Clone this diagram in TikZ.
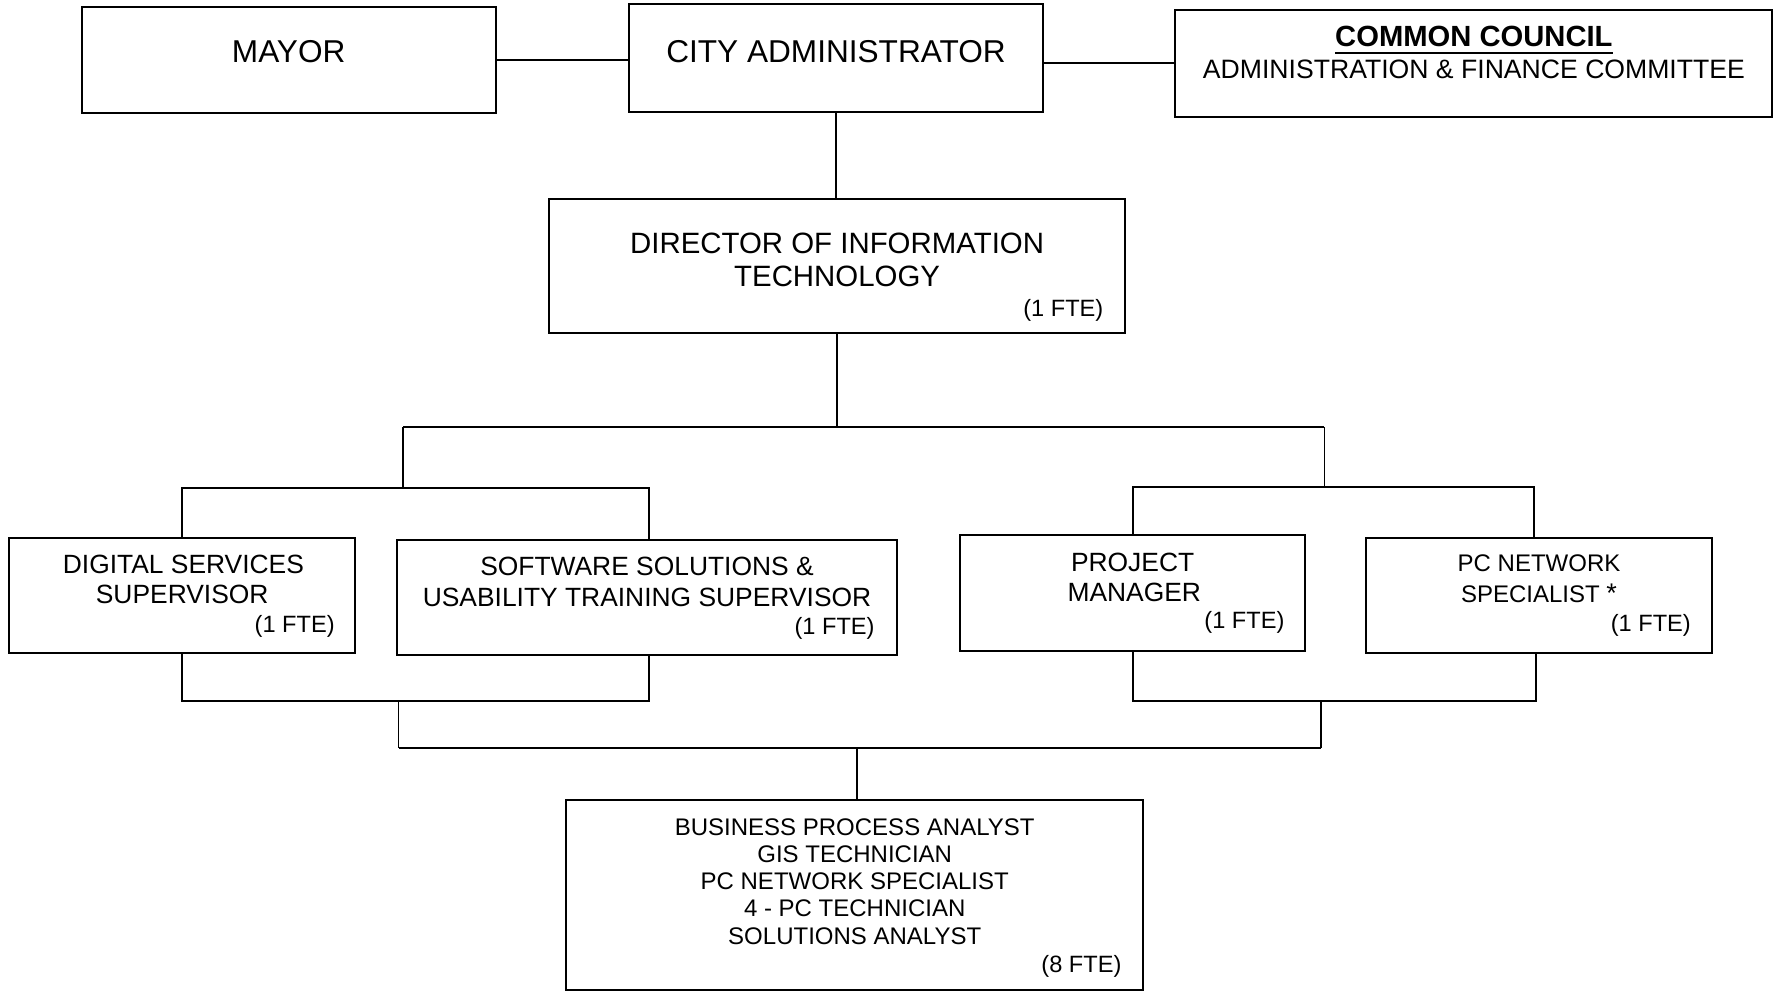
\documentclass[tikz,border=0pt]{standalone}
\usepackage{fontspec}
\setmainfont{Liberation Sans}
\usetikzlibrary{fit}
\newcommand\ulcc[1]{\setbox0\hbox{#1}\rlap{\raisebox{-3.9pt}{\rule{\wd0}{1.3pt}}}\box0}
\begin{document}
\begin{tikzpicture}[x=0.5pt,y=-0.5pt,
  box/.style={draw, line width=1pt, inner sep=0pt, outer sep=0pt},
  conn/.style={line width=0.9pt},
  tl/.style={inner sep=0pt, anchor=base},
  big/.style={tl, font=\fontsize{15.8}{18}\selectfont},
  mid/.style={tl, font=\fontsize{13.2}{15}\selectfont},
  sml/.style={tl, font=\fontsize{12}{14}\selectfont},
  fte/.style={inner sep=0pt, anchor=base east, font=\fontsize{11.8}{14}\selectfont}]
\useasboundingbox (0,0) rectangle (1775,990);

% boxes
\node[box, fit={(81.5,6.8) (495.8,113.2)}] (mayor) {};
\node[box, fit={(629.4,4.5) (1042.6,112)}] (city) {};
\node[box, fit={(1175,10.2) (1771.5,116.6)}] (council) {};
\node[box, fit={(549,199.2) (1125.2,332.8)}] (dir) {};
\node[box, fit={(9,537.7) (355.4,653.2)}] (ds) {};
\node[box, fit={(397.3,540) (896.5,655.4)}] (ss) {};
\node[box, fit={(960,535.4) (1305.2,650.9)}] (pm) {};
\node[box, fit={(1366.3,537.7) (1711.6,653.2)}] (pc) {};
\node[box, fit={(566,800.3) (1143.3,989.5)}] (bot) {};

% texts
\node[big] (tmayor) at (288.7,62.2) {MAYOR};
\node[big] (tcity) at (836,62.2) {CITY ADMINISTRATOR};
\node[tl, font=\bfseries\fontsize{14.6}{17}\selectfont] (tcc1) at (1473.9,46.7) {\ulcc{COMMON COUNCIL}};
\node[tl, font=\fontsize{13.3}{16}\selectfont] (tcc2) at (1473.9,78.6) {ADMINISTRATION \& FINANCE COMMITTEE};

\node[tl, font=\fontsize{14.7}{17}\selectfont] (tdir1) at (837.1,253.9) {DIRECTOR OF INFORMATION};
\node[tl, font=\fontsize{14.7}{17}\selectfont] (tdir2) at (837.1,286.7) {TECHNOLOGY};
\node[fte] (tdir3) at (1103.7,316.3) {(1 FTE)};

\node[mid] (tds1) at (183.4,573.2) {DIGITAL SERVICES};
\node[mid] (tds2) at (182.2,603.8) {SUPERVISOR};
\node[fte] (tds3) at (335.1,632.1) {(1 FTE)};

\node[mid] (tss1) at (647,575.5) {SOFTWARE SOLUTIONS \&};
\node[mid] (tss2) at (647,606.1) {USABILITY TRAINING SUPERVISOR};
\node[fte] (tss3) at (875,634.4) {(1 FTE)};

\node[mid] (tpm1) at (1132.6,571.0) {PROJECT};
\node[mid] (tpm2) at (1134.3,601.5) {MANAGER};
\node[fte] (tpm3) at (1284.8,628.7) {(1 FTE)};

\node[sml] (tpc1) at (1539,571.2) {PC NETWORK};
\node[sml] (tpc2) at (1539,602.9) {SPECIALIST {\fontsize{13.5}{14}\selectfont *}};
\node[fte] (tpc3) at (1691.2,631.0) {(1 FTE)};

\node[sml] (tb1) at (854.7,835.0) {BUSINESS PROCESS ANALYST};
\node[sml] (tb2) at (854.7,862.1) {GIS TECHNICIAN};
\node[sml] (tb3) at (854.7,889.3) {PC NETWORK SPECIALIST};
\node[sml] (tb4) at (854.7,916.5) {4 - PC TECHNICIAN};
\node[sml] (tb5) at (854.7,944.8) {SOLUTIONS ANALYST};
\node[fte] (tb6) at (1121.8,972.9) {(8 FTE)};

% junction coordinates
\coordinate (jd) at (837.7,426.8);
\coordinate (jl) at (403,426.8);
\coordinate (jr) at (1324.4,426.8);
\coordinate (jl2) at (403,487.9);
\coordinate (jr2) at (1324.4,486.8);
\coordinate (dsin) at (182.3,537.7);
\coordinate (ssin) at (648.6,540);
\coordinate (pmin) at (1133.1,535.4);
\coordinate (pcin) at (1533.9,537.7);
\coordinate (dsout) at (182.3,653.2);
\coordinate (ssout) at (648.6,655.4);
\coordinate (pmout) at (1133.1,650.9);
\coordinate (pcout) at (1536.1,653.2);
\coordinate (lb) at (398.5,700.7);
\coordinate (rb) at (1321,700.7);
\coordinate (lb2) at (398.5,748.3);
\coordinate (rb2) at (1321,748.3);
\coordinate (botin) at (857,800.3);

% connectors
\draw[conn] (mayor.east) -- (mayor.east -| city.west);
\draw[conn] (council.west -| city.east) -- (council.west);
\draw[conn] (city.south) -- (city.south |- dir.north);
\draw[conn] (dir.south) -- (dir.south |- jd);
\draw[conn] (jl) -- (jr);
\draw[conn] (jl) -- (jl2);
\draw[conn] (jr) -- (jr2);
\draw[conn] (dsin) |- (jl2) -| (ssin);
\draw[conn] (pmin) |- (jr2) -| (pcin);
\draw[conn] (dsout) |- (lb) -| (ssout);
\draw[conn] (pmout) |- (rb) -| (pcout);
\draw[conn] (lb) -- (lb2);
\draw[conn] (rb) -- (rb2);
\draw[conn] (lb2) -- (rb2);
\draw[conn] (botin |- lb2) -- (botin);
\end{tikzpicture}
\end{document}
